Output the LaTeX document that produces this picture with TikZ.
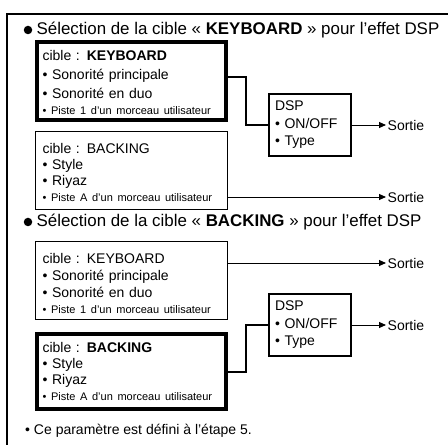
\documentclass[tikz,border=0pt]{standalone}
\usepackage{fontspec}
\setmainfont{Liberation Sans}
\usetikzlibrary{arrows.meta,positioning,calc}

\newcommand{\bodyfont}{\fontsize{14}{19}\selectfont}
\newcommand{\pistefont}{\fontsize{11}{15}\selectfont}

\begin{document}
\begin{tikzpicture}[
    target/.style={draw, line width=0.9pt, minimum width=192pt, minimum height=78pt, text width=178pt, align=left, inner sep=0pt, font=\bodyfont},
    seltarget/.style={target, line width=4pt, minimum width=189pt, minimum height=75pt},
    dspbox/.style={draw, line width=1.8pt, minimum width=82pt, minimum height=62pt, text width=70pt, align=left, inner sep=0pt, font=\fontsize{14}{17.5}\selectfont},
    heading/.style={font=\fontsize{16.9}{20}\selectfont, inner sep=0pt, anchor=west},
    dot/.style={circle, fill, inner sep=0pt, minimum size=8.5pt},
    output/.style={inner sep=1.5pt, anchor=west, font=\bodyfont},
    link/.style={line width=1.8pt},
    arrow/.style={-{Triangle[length=7pt, width=6pt]}, line width=0.9pt},
    frame/.style={line width=2.5pt},
    x=1pt, y=1pt
]
\useasboundingbox (0,0) rectangle (448,445);
\draw[frame] (7,0) -- (7,431) -- (448,431);

% target KEYBOARD
\node[dot] (d1) at (28,415) {};
\node[heading, right=4pt of d1] (h1) {Sélection de la cible « \textbf{KEYBOARD} » pour l'effet DSP};
\node[seltarget, minimum height=78pt] (kb1) at (131.5,364) {\rule{0pt}{14pt}cible : \textbf{KEYBOARD}\\ • Sonorité principale\\ • Sonorité en duo\\[-3pt] {\pistefont • Piste 1 d'un morceau utilisateur}};
\node[target, below=9pt of kb1] (bk1) {\rule{0pt}{13.5pt}cible : BACKING\\[-3pt] • Style\\[-3pt] • Riyaz\\[-3pt] {\pistefont • Piste A d'un morceau utilisateur}};
\node[dspbox] (dsp1) at (310,320) {DSP\\ • ON/OFF\\ • Type};
\node[output] (s1) at (386,320) {Sortie};
\node[output] (s2) at (386,248) {Sortie};

\draw[link] ([yshift=-37pt]kb1.north east) -- ++(18,0) |- (dsp1.west);
\draw[arrow] (dsp1.east) -- (s1.west);
\draw[arrow] (bk1.east |- s2.west) -- (s2.west);

% target BACKING
\node[dot] (d2) at (28,223) {};
\node[heading, right=4pt of d2] (h2) {Sélection de la cible « \textbf{BACKING} » pour l'effet DSP};
\node[target] (kb2) at (131.5,165) {\rule{0pt}{17.5pt}cible : KEYBOARD\\[-2pt] • Sonorité principale\\[-2pt] • Sonorité en duo\\[-3pt] {\pistefont • Piste 1 d'un morceau utilisateur}};
\node[seltarget, below=13pt of kb2] (bk2) {cible : \textbf{BACKING}\\[-3pt] • Style\\[-3pt] • Riyaz\\[-3pt] {\pistefont • Piste A d'un morceau utilisateur}};
\node[dspbox] (dsp2) at (310,120) {DSP\\ • ON/OFF\\ • Type};
\node[output] (s3) at (386,182) {Sortie};
\node[output] (s4) at (386,120) {Sortie};

\draw[arrow] (kb2.east |- s3.west) -- (s3.west);
\draw[link] (bk2.east) -- ++(18,0) |- (dsp2.west);
\draw[arrow] (dsp2.east) -- (s4.west);

\node[anchor=west, inner sep=0pt, font=\bodyfont] (note) at (25,14) {• Ce paramètre est défini à l'étape 5.};
\end{tikzpicture}
\end{document}
